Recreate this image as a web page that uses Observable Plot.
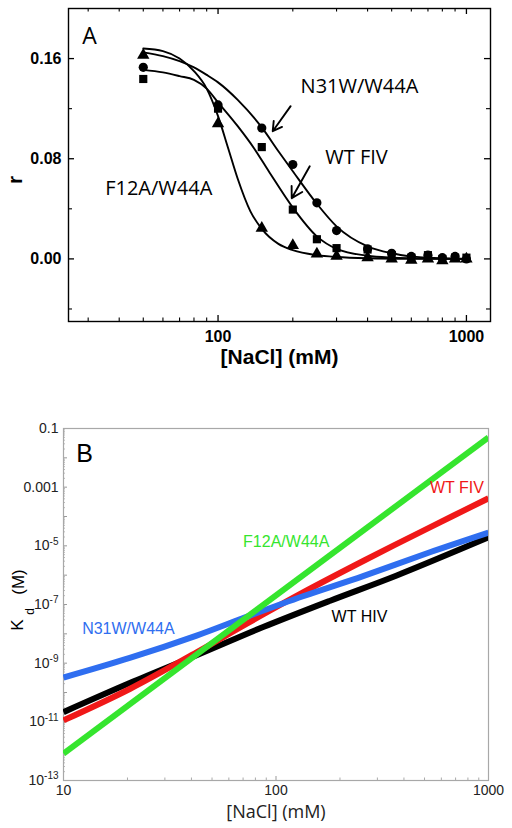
<!DOCTYPE html>
<html>
<head>
<meta charset="utf-8">
<script src="https://cdn.jsdelivr.net/npm/d3@7"></script>
<script src="https://cdn.jsdelivr.net/npm/@observablehq/plot@0.6"></script>
<style>
  html, body { margin: 0; padding: 0; background: #fff; }
  #chart svg { display: block; }
</style>
</head>
<body>
<div id="chart"></div>
<script>
// ---------- Panel A data ----------
const naclA = [50, 100, 150, 200, 250, 300, 400, 500, 600, 700, 800, 900, 1000];
const rN31W = [0.153, 0.123, 0.1045, 0.0754, 0.0448, 0.0226, 0.008, 0.0045, 0.002, 0.003, 0.001, 0.002, 0.0];
const rWTFIV = [0.1437, 0.120, 0.0893, 0.0394, 0.0157, 0.0086, 0.0075, 0.003, 0.001, 0.003, 0.0, 0.001, 0.001];
const rF12A = [0.1627, 0.108, 0.0245, 0.0108, 0.004, 0.0022, 0.001, 0.0, -0.001, 0.0, -0.0015, 0.0, 0.0];

// fitted curves
const fitF12A_x = [50, 60, 70, 80, 90, 100, 110, 120, 135, 150, 175, 200, 250, 300, 400, 600, 1000];
const fitF12A_r = [0.168, 0.166, 0.160, 0.150, 0.136, 0.114, 0.088, 0.064, 0.038, 0.024, 0.012, 0.007, 0.003, 0.0015, 0.0005, 0.0001, 0];
const fitN31W_x = [50, 60, 70, 80, 90, 100, 120, 150, 175, 200, 250, 300, 400, 500, 600, 800, 1000];
const fitN31W_r = [0.165, 0.162, 0.158, 0.153, 0.147, 0.141, 0.127, 0.105, 0.086, 0.070, 0.044, 0.026, 0.010, 0.0045, 0.002, 0.0005, 0.0001];
const fitWTFIV_x = [50, 60, 70, 80, 90, 100, 120, 140, 160, 200, 250, 300, 400, 500, 700, 1000];
const fitWTFIV_r = [0.151, 0.149, 0.146, 0.143, 0.136, 0.125, 0.106, 0.088, 0.070, 0.041, 0.018, 0.008, 0.0025, 0.001, 0.0002, 0];

const xTicksA = [100, 1000];
const xMinorA = [30, 40, 50, 60, 70, 80, 90, 200, 300, 400, 500, 600, 700, 800, 900];
const yTicksA = [0, 0.08, 0.16];
const yMinorA = [-0.04, 0.04, 0.12];

const labelsA = ["N31W/W44A", "WT FIV", "F12A/W44A"];
const labelsA_x = [371, 361, 57.7];
const labelsA_y = [0.138, 0.081, 0.0565];
const arrowsA_x1 = [196, 234], arrowsA_y1 = [0.122, 0.074];
const arrowsA_x2 = [166, 198], arrowsA_y2 = [0.102, 0.0485];

// ---------- Panel B data ----------
const seriesB = ["WT HIV", "WT FIV", "N31W/W44A", "F12A/W44A"];
const colorsB = ["#000000", "#f01818", "#2f6ef0", "#35e52e"];
const naclB_HIV = [10, 20.5, 42.3, 87, 180, 370, 1000];
const kdB_HIV = [2.14e-11, 2.09e-10, 1.86e-9, 1.70e-8, 1.35e-7, 9.77e-7, 1.95e-5];
const naclB_FIV = [10, 20.5, 42.3, 72.6, 134, 260, 530, 1000];
const kdB_FIV = [1.12e-11, 1.32e-10, 2.34e-9, 2.19e-8, 2.57e-7, 3.16e-6, 4.27e-5, 4.17e-4];
const naclB_N31W = [10, 20.5, 42.3, 72.6, 134, 257, 530, 1000];
const kdB_N31W = [3.24e-10, 1.51e-9, 8.71e-9, 3.80e-8, 1.91e-7, 9.33e-7, 6.03e-6, 2.82e-5];
const naclB_F12A = [10, 1000];
const kdB_F12A = [8.3e-13, 0.05];

const xTicksB = [10, 100, 1000];
const yTicksB = [1e-1, 1e-3, 1e-5, 1e-7, 1e-9, 1e-11, 1e-13];
const labelsB_x = [247, 710, 20.2, 111.7];
const labelsB_y = [3.8e-8, 9.3e-4, 1.45e-8, 1.4e-5];

// ---------- build tables ----------
const ptsA = [];
naclA.forEach((x, i) => {
  ptsA.push({x, r: rN31W[i], s: "circle"});
  ptsA.push({x, r: rWTFIV[i], s: "square"});
  ptsA.push({x, r: rF12A[i], s: "triangle"});
});
const curvesA = [];
fitF12A_x.forEach((x, i) => curvesA.push({x, r: fitF12A_r[i], k: "F12A"}));
fitN31W_x.forEach((x, i) => curvesA.push({x, r: fitN31W_r[i], k: "N31W"}));
fitWTFIV_x.forEach((x, i) => curvesA.push({x, r: fitWTFIV_r[i], k: "WTFIV"}));
const textA = labelsA.map((t, i) => ({t, x: labelsA_x[i], y: labelsA_y[i]}));
const arrA = arrowsA_x1.map((x1, i) => ({x1, y1: arrowsA_y1[i], x2: arrowsA_x2[i], y2: arrowsA_y2[i]}));

const linesB = [];
[[naclB_HIV, kdB_HIV], [naclB_FIV, kdB_FIV], [naclB_N31W, kdB_N31W], [naclB_F12A, kdB_F12A]].forEach(([xs, ys], k) => {
  xs.forEach((x, i) => linesB.push({x, y: ys[i], s: seriesB[k]}));
});
const textB = seriesB.map((s, i) => ({s, x: labelsB_x[i], y: labelsB_y[i]}));

// ---------- Panel A ----------
const A = {w: 512, h: 372, mt: 8, mb: 51, ml: 68, mr: 22};
const iwA = A.w - A.ml - A.mr, ihA = A.h - A.mt - A.mb;
const plotA = Plot.plot({
  width: A.w, height: A.h,
  marginTop: A.mt, marginBottom: A.mb, marginLeft: A.ml, marginRight: A.mr,
  style: {fontFamily: "'Liberation Sans', Arial, sans-serif", fontSize: "16px", fontWeight: "bold", color: "#000", background: "#fff"},
  x: {type: "log", domain: [25, 1250]},
  y: {domain: [-0.05, 0.2]},
  symbol: {domain: ["circle", "square", "triangle"], range: ["circle", "square", "triangle"]},
  marks: [
    Plot.axisX({ticks: xTicksA, tickSize: 0, tickPadding: 9, tickFormat: d => String(d), label: null}),
    Plot.axisY({ticks: yTicksA, tickSize: 0, tickPadding: 7, tickFormat: d3.format(".2f"), label: null}),
    Plot.tickX(xTicksA, {x: d => d, insetTop: ihA - 6, strokeWidth: 1.3}),
    Plot.tickX(xTicksA, {x: d => d, insetBottom: ihA - 6, strokeWidth: 1.3}),
    Plot.tickX(xMinorA, {x: d => d, insetTop: ihA - 3.5, strokeWidth: 1.1}),
    Plot.tickX(xMinorA, {x: d => d, insetBottom: ihA - 3.5, strokeWidth: 1.1}),
    Plot.tickY(yTicksA, {y: d => d, insetRight: iwA - 6, strokeWidth: 1.3}),
    Plot.tickY(yTicksA, {y: d => d, insetLeft: iwA - 6, strokeWidth: 1.3}),
    Plot.tickY(yMinorA, {y: d => d, insetRight: iwA - 4, strokeWidth: 1.1}),
    Plot.tickY(yMinorA, {y: d => d, insetLeft: iwA - 4, strokeWidth: 1.1}),
    Plot.frame({stroke: "#000", strokeWidth: 1.4}),
    Plot.line(curvesA, {x: "x", y: "r", z: "k", curve: "monotone-x", stroke: "#000", strokeWidth: 1.9}),
    Plot.dot(ptsA, {x: "x", y: "r", symbol: "s", fill: "#000", stroke: "none", r: 4.6}),
    Plot.arrow(arrA, {x1: "x1", y1: "y1", x2: "x2", y2: "y2", stroke: "#000", strokeWidth: 1.9, headLength: 10}),
    Plot.text(textA, {x: "x", y: "y", text: "t", fontFamily: "'Open Sans', sans-serif", fontWeight: "normal", fontSize: 20, fill: "#000"}),
    Plot.text(["A"], {frameAnchor: "top-left", text: d => d, dx: 21, dy: 28, textAnchor: "middle", lineAnchor: "middle", fontFamily: "'Open Sans', sans-serif", fontWeight: "normal", fontSize: 23}),
    Plot.text(["r"], {frameAnchor: "left", text: d => d, dx: -53, dy: 15, rotate: -90, textAnchor: "middle", lineAnchor: "middle", fontSize: 21, fontWeight: "bold"}),
    Plot.text(["[NaCl] (mM)"], {frameAnchor: "bottom", text: d => d, dy: 36, textAnchor: "middle", lineAnchor: "middle", fontSize: 21, fontWeight: "bold"})
  ]
});

// ---------- Panel B ----------
const B = {w: 512, h: 456, mt: 56, mb: 48, ml: 63, mr: 24};
const iwB = B.w - B.ml - B.mr, ihB = B.h - B.mt - B.mb;
const yMinorB = [], yDecB = [];
for (let e = -13; e <= -1; e++) {
  yDecB.push(Math.pow(10, e));
  if (e < -1) for (let m = 2; m <= 9; m++) yMinorB.push(m * Math.pow(10, e));
}
const xMinorB = [];
for (const d of [10, 100]) for (let m = 2; m <= 9; m++) xMinorB.push(m * d);

const plotB = Plot.plot({
  width: B.w, height: B.h,
  marginTop: B.mt, marginBottom: B.mb, marginLeft: B.ml, marginRight: B.mr,
  style: {fontFamily: "'Liberation Sans', Arial, sans-serif", fontSize: "14px", color: "#222", background: "#fff"},
  x: {type: "log", domain: [10, 1000]},
  y: {type: "log", domain: [1e-13, 0.1]},
  color: {domain: seriesB, range: colorsB},
  marks: [
    Plot.axisX({ticks: xTicksB, tickSize: 0, tickPadding: 5, tickFormat: d => String(d), label: null}),
    Plot.axisY({ticks: yTicksB, tickSize: 0, tickPadding: 5, label: null,
      tickFormat: d => d >= 1e-3 ? String(d) : "10^" + Math.round(Math.log10(d))}),
    Plot.tickX(xMinorB, {x: d => d, insetTop: ihB - 2.5, stroke: "#aaa"}),
    Plot.tickX([100], {x: d => d, insetTop: ihB - 4, stroke: "#999"}),
    Plot.tickY(yMinorB, {y: d => d, insetRight: iwB - 2, stroke: "#bbb"}),
    Plot.tickY(yDecB, {y: d => d, insetRight: iwB - 4, stroke: "#999"}),
    Plot.frame({stroke: "#a8a8a8", strokeWidth: 1.2}),
    Plot.line(linesB, {x: "x", y: "y", z: "s", stroke: "s", curve: "catmull-rom", strokeWidth: 6, strokeLinecap: "butt", clip: true}),
    Plot.text(textB, {x: "x", y: "y", text: "s", fill: "s", fontSize: 16}),
    Plot.text(["B"], {frameAnchor: "top-left", text: d => d, dx: 21, dy: 25, textAnchor: "middle", lineAnchor: "middle", fontSize: 25, fill: "#000"}),
    Plot.text(["K"], {frameAnchor: "left", text: d => d, dx: -46, dy: 20.5, rotate: -90, textAnchor: "middle", lineAnchor: "middle", fontSize: 17, fill: "#000"}),
    Plot.text(["d"], {frameAnchor: "left", text: d => d, dx: -33.5, dy: 7, rotate: -90, textAnchor: "middle", lineAnchor: "middle", fontSize: 12, fill: "#000"}),
    Plot.text(["(M)"], {frameAnchor: "left", text: d => d, dx: -45, dy: -22.5, rotate: -90, textAnchor: "middle", lineAnchor: "middle", fontSize: 17, fill: "#000"}),
    Plot.text(["[NaCl] (mM)"], {frameAnchor: "bottom", text: d => d, dy: 32, textAnchor: "middle", lineAnchor: "middle", fontFamily: "'Open Sans', sans-serif", fontSize: 18, fill: "#222"})
  ]
});

// superscript exponents on the y tick labels of panel B
d3.select(plotB).selectAll('g[aria-label="y-axis tick label"] text').each(function () {
  const t = this.textContent;
  if (t.startsWith("10^")) {
    const exp = t.slice(3);
    const sel = d3.select(this);
    sel.text("10");
    sel.append("tspan").attr("dy", "-0.55em").attr("font-size", "10px").text(exp);
  }
});

const root = document.getElementById("chart");
root.appendChild(plotA);
root.appendChild(plotB);
</script>
</body>
</html>
